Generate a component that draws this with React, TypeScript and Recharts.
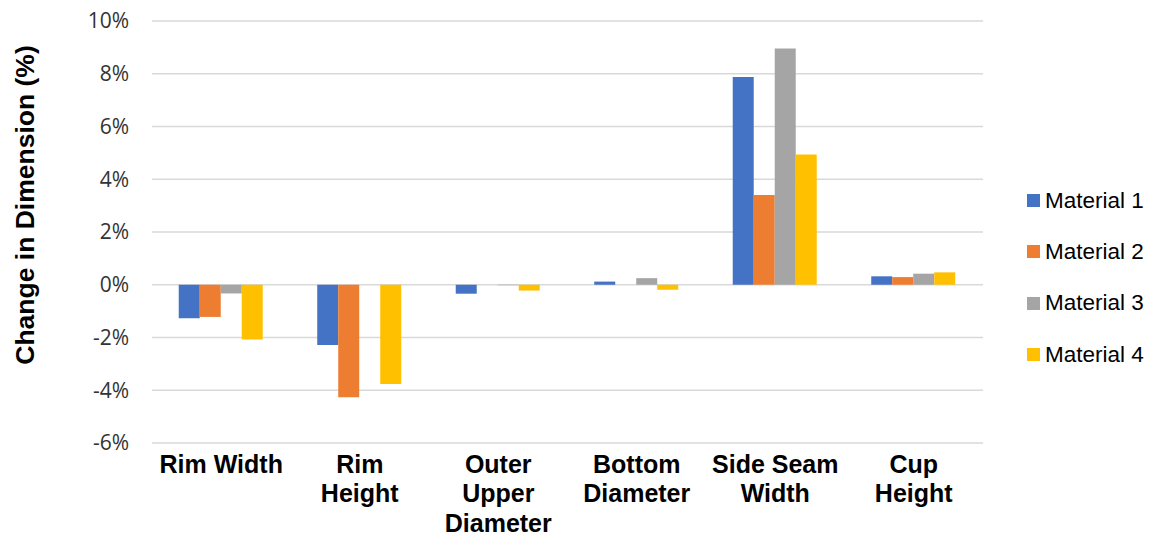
import { Bar, BarChart, CartesianGrid, Legend, XAxis, YAxis } from 'recharts';

const categories = [
  'Rim Width',
  'Rim Height',
  'Outer Upper Diameter',
  'Bottom Diameter',
  'Side Seam Width',
  'Cup Height',
];

// how each category name is broken over lines under the axis
const categoryLines = [
  ['Rim Width'],
  ['Rim', 'Height'],
  ['Outer', 'Upper', 'Diameter'],
  ['Bottom', 'Diameter'],
  ['Side Seam', 'Width'],
  ['Cup', 'Height'],
];

const material1 = [-1.27, -2.28, -0.34, 0.12, 7.88, 0.32];
const material2 = [-1.22, -4.27, 0, 0, 3.4, 0.29];
const material3 = [-0.33, 0, -0.02, 0.25, 8.96, 0.42];
const material4 = [-2.08, -3.76, -0.22, -0.19, 4.94, 0.47];

const yTicks = [-6, -4, -2, 0, 2, 4, 6, 8, 10];

const series = [
  { key: 'm1', name: 'Material 1', color: '#4472C4' },
  { key: 'm2', name: 'Material 2', color: '#ED7D31' },
  { key: 'm3', name: 'Material 3', color: '#A5A5A5' },
  { key: 'm4', name: 'Material 4', color: '#FFC000' },
];

const data = categories.map((name, i) => ({
  name,
  m1: material1[i],
  m2: material2[i],
  m3: material3[i],
  m4: material4[i],
}));

const CategoryTick = (props: any) => {
  const { x, y, index } = props;
  const lines = categoryLines[index] || [];
  return (
    <text
      x={x}
      y={y}
      textAnchor='middle'
      fontFamily='"Liberation Sans", Arial, sans-serif'
      fontWeight='bold'
      fontSize={25}
      fill='#000'
    >
      {lines.map((line, i) => (
        <tspan key={i} x={x} y={y + 21.5 + i * 29.5}>
          {line}
        </tspan>
      ))}
    </text>
  );
};

const AxisTitle = () => (
  <text
    x={25}
    y={205}
    transform='rotate(-90 25 205)'
    textAnchor='middle'
    dominantBaseline='central'
    fontFamily='"Liberation Sans", Arial, sans-serif'
    fontWeight='bold'
    fontSize={26.5}
    fill='#000'
  >
    Change in Dimension (%)
  </text>
);

const LegendList = () => (
  <div>
    {series.map((s) => (
      <div
        key={s.key}
        style={{
          height: 51.3,
          display: 'flex',
          alignItems: 'center',
          fontFamily: '"Liberation Sans", Arial, sans-serif',
          fontSize: 22.5,
          color: '#000',
          whiteSpace: 'nowrap',
        }}
      >
        <span
          style={{
            width: 13,
            height: 13,
            background: s.color,
            display: 'inline-block',
            marginRight: 5,
          }}
        />
        {s.name}
      </div>
    ))}
  </div>
);

export default function App() {
  return (
    <div style={{ position: 'absolute', left: 0, top: 0 }}>
      <BarChart
        width={1157}
        height={537}
        data={data}
        barGap={0}
        barCategoryGap='19.3%'
        margin={{ top: 21, right: 44, left: 72, bottom: 0 }}
      >
        <CartesianGrid vertical={false} stroke='#d9d9d9' strokeWidth={1.5} />
        <XAxis
          dataKey='name'
          axisLine={false}
          tickLine={false}
          height={94}
          interval={0}
          tick={<CategoryTick />}
        />
        <YAxis
          width={80}
          domain={[-6, 10]}
          ticks={yTicks}
          interval={0}
          axisLine={false}
          tickLine={false}
          tickSize={0}
          tickMargin={23}
          tickFormatter={(v: number) => `${v}%`}
          tick={{
            fontFamily: '"Open Sans", sans-serif',
            fontSize: 21,
            fill: '#333',
          }}
          label={{ content: <AxisTitle /> }}
        />
        <Legend
          layout='vertical'
          align='right'
          verticalAlign='middle'
          content={<LegendList />}
          wrapperStyle={{ position: 'absolute', left: 1027, top: 175, width: 130 }}
        />
        {series.map((s) => (
          <Bar
            key={s.key}
            dataKey={s.key}
            name={s.name}
            fill={s.color}
            isAnimationActive={false}
          />
        ))}
      </BarChart>
    </div>
  );
}
